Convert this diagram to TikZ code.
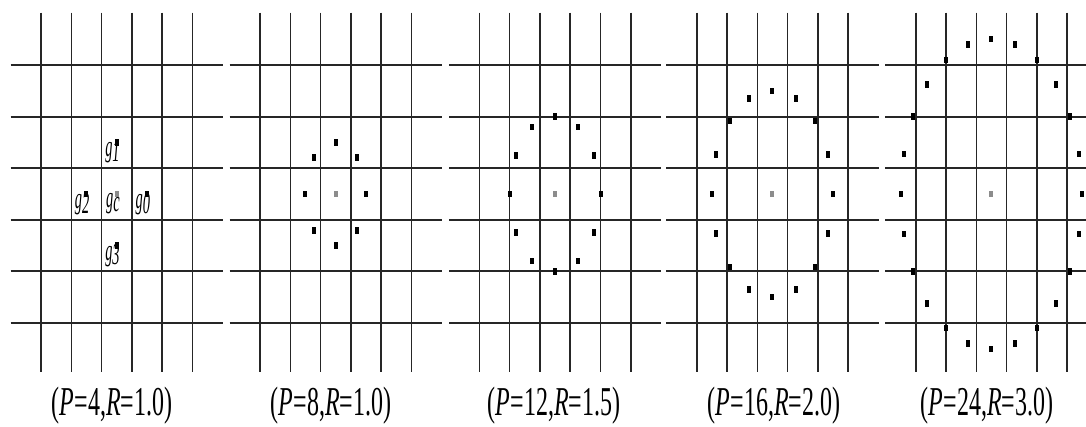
\documentclass[tikz,border=0pt]{standalone}
\usepackage{fontspec}
\setmainfont{Liberation Serif}
\begin{document}
\begin{tikzpicture}[x=1pt,y=-1pt,
  hline/.style={line width=2pt,black!85},
  vline/.style={line width=1.6pt,black!85},
  spt/.style={rectangle,fill=black,draw=none,minimum width=4pt,minimum height=6.5pt,inner sep=0pt},
  cpt/.style={spt,fill=black!45},
  capt/.style={font=\fontsize{41}{41}\selectfont,xscale=0.585,anchor=base,inner sep=0pt},
  glab/.style={font=\fontsize{30}{30}\selectfont\itshape,xscale=0.48,anchor=north east,inner sep=0pt}]
\useasboundingbox (0,0) rectangle (1086,427);
% grids
\foreach \ox in {41,260,479.3,696.7,915.7} {
  \foreach \k in {0,...,5} {
    \draw[vline] ({\ox+\k*30.3},12.7) -- ({\ox+\k*30.3},372);
    \draw[hline] ({\ox-30.3},{65+\k*51.6}) -- ({min(\ox+181.8,1086)},{65+\k*51.6});
  }
}
% panel 1 sample points and labels
\node[cpt] (gc) at (116.75,194) {};
\node[spt] (g0) at (147.05,194) {};
\node[spt] (g1) at (116.75,142.4) {};
\node[spt] (g2) at (86.45,194) {};
\node[spt] (g3) at (116.75,245.6) {};
\node[glab] (lgc) at ([xshift=3pt,yshift=1pt]gc.center) {g\raisebox{-0.15em}{c}};
\node[glab] (lg0) at ([xshift=3pt,yshift=1pt]g0.center) {g\raisebox{-0.15em}{0}};
\node[glab] (lg1) at ([xshift=3pt,yshift=1pt]g1.center) {g\raisebox{-0.15em}{1}};
\node[glab] (lg2) at ([xshift=3pt,yshift=1pt]g2.center) {g\raisebox{-0.15em}{2}};
\node[glab] (lg3) at ([xshift=3pt,yshift=1pt]g3.center) {g\raisebox{-0.15em}{3}};
% panels 2-5 sample points
\foreach \ox/\P/\R in {260/8/1,479.3/12/1.5,696.7/16/2,915.7/24/3} {
  \node[cpt] (c\P) at ({\ox+75.75},194) {};
  \foreach \j in {1,...,\P} {
    \node[spt] (p\P-\j) at ({\ox+75.75+\R*30.3*cos(360*\j/\P)},{194-\R*51.6*sin(360*\j/\P)}) {};
  }
}
% captions
\node[capt] (cap1) at (112,415) {(\textit{P}=4,\textit{R}=1.0)};
\node[capt] (cap2) at (331,415) {(\textit{P}=8,\textit{R}=1.0)};
\node[capt] (cap3) at (554,415) {(\textit{P}=12,\textit{R}=1.5)};
\node[capt] (cap4) at (774,415) {(\textit{P}=16,\textit{R}=2.0)};
\node[capt] (cap5) at (987,415) {(\textit{P}=24,\textit{R}=3.0)};
\end{tikzpicture}
\end{document}
